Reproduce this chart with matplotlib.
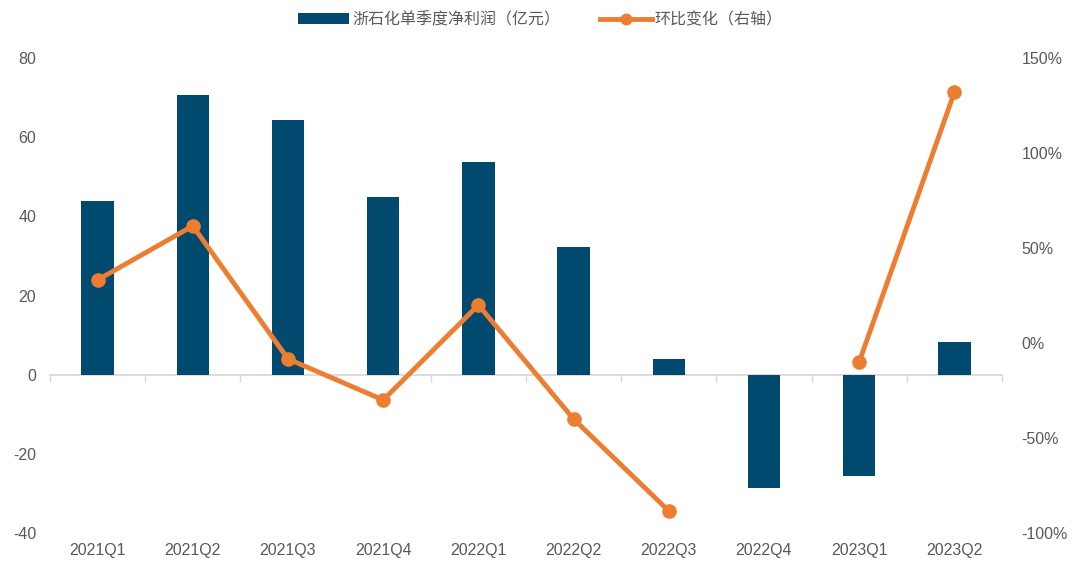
import matplotlib
matplotlib.use("Agg")
import matplotlib.pyplot as plt
import numpy as np
from matplotlib.ticker import FuncFormatter

plt.rcParams['font.family'] = ['Liberation Sans', 'Noto Sans CJK SC', 'DejaVu Sans']
plt.rcParams['axes.unicode_minus'] = False

quarters = ["2021Q1", "2021Q2", "2021Q3", "2021Q4", "2022Q1",
            "2022Q2", "2022Q3", "2022Q4", "2023Q1", "2023Q2"]
profit = [43.9, 70.7, 64.3, 44.9, 53.7, 32.2, 4.0, -28.7, -25.6, 8.3]
qoq = [33.2, 61.6, -8.4, -30.0, 20.0, -40.0, -88.4, np.nan, -10.0, 132.0]

bar_label = "浙石化单季度净利润（亿元）"
line_label = "环比变化（右轴）"

bar_color = "#004A70"
line_color = "#ED7D31"
text_color = "#595959"

fig = plt.figure(figsize=(10.81, 5.65), dpi=100)
ax = fig.add_axes([50/1081, 1-533/565, (1002-50)/1081, (533-58)/565])
x = np.arange(len(quarters))

b = ax.bar(x, profit, width=0.34, color=bar_color, label=bar_label, zorder=2)
ax.set_xlim(-0.5, len(quarters) - 0.5)
ax.set_ylim(-40, 80)
ax.set_yticks(np.arange(-40, 81, 20))

for s in ['top', 'right', 'left']:
    ax.spines[s].set_visible(False)
ax.spines['bottom'].set_position(('data', 0))
ax.spines['bottom'].set_color('#D9D9D9')
ax.spines['bottom'].set_linewidth(1.3)
ax.spines['bottom'].set_zorder(1)
ax.set_xticks(np.arange(-0.5, len(quarters), 1.0))
ax.tick_params(axis='x', length=5, width=1, color='#D9D9D9', labelbottom=False)
ax.tick_params(axis='y', length=0, pad=10, labelsize=11.5, labelcolor=text_color)

sec = ax.secondary_xaxis('bottom')
sec.set_xticks(x, quarters)
sec.spines['bottom'].set_visible(False)
sec.tick_params(length=0, pad=7, labelsize=11.5, labelcolor=text_color)

ax2 = ax.twinx()
ln, = ax2.plot(x, qoq, color=line_color, lw=3.5, marker='o', ms=9.5,
               label=line_label, zorder=3)
ax2.set_ylim(-100, 150)
ax2.set_yticks(np.arange(-100, 151, 50))
ax2.yaxis.set_major_formatter(FuncFormatter(lambda v, p: f"{int(v)}%"))
for s in ['top', 'right', 'left', 'bottom']:
    ax2.spines[s].set_visible(False)
ax2.tick_params(axis='y', length=0, pad=14, labelsize=11.5, labelcolor=text_color)

leg = fig.legend([b, ln], [bar_label, line_label], loc='upper center',
                 bbox_to_anchor=(0.5, 1.0), ncol=2, frameon=False,
                 prop={'family': ['Noto Sans CJK SC', 'DejaVu Sans'], 'size': 11.5},
                 handlelength=3.2, handleheight=0.6, columnspacing=2.5,
                 handletextpad=0.2, borderaxespad=0.3, markerscale=0.8)
for t in leg.get_texts():
    t.set_color(text_color)

fig.savefig("out.png", dpi=100)
